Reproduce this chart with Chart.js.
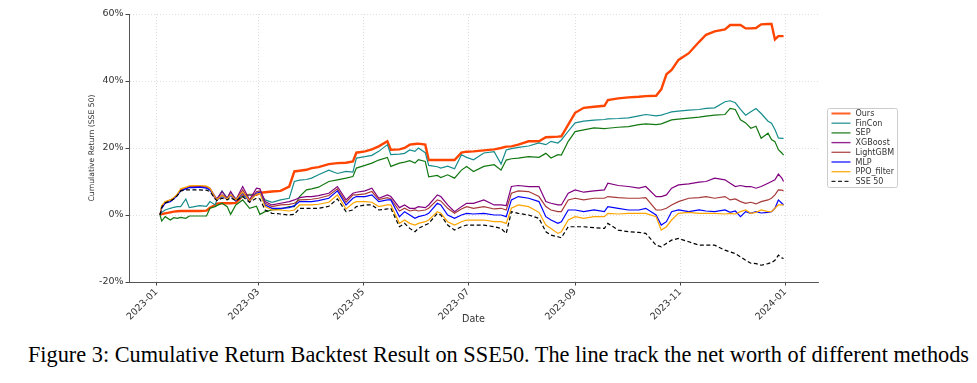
<!DOCTYPE html>
<html>
<head>
<meta charset="utf-8">
<script src="https://cdn.jsdelivr.net/npm/chart.js@4.4.1/dist/chart.umd.min.js"></script>
<style>
  html, body { margin: 0; padding: 0; background: #fff; }
  #wrap { position: relative; width: 977px; height: 383px; overflow: hidden; }
  #chart { position: absolute; left: 0; top: 0; }
  #caption {
    position: absolute; left: 0; top: 342px; width: 977px;
    padding-left: 20px; box-sizing: border-box;
    text-align: center; white-space: nowrap;
    font-family: "Liberation Serif", "Times New Roman", serif;
    font-size: 22.3px; line-height: 26px; color: #000;
  }
</style>
</head>
<body>
<div id="wrap">
  <canvas id="chart" width="977" height="340"></canvas>
  <div id="caption">Figure 3: Cumulative Return Backtest Result on SSE50. The line track the net worth of different methods</div>
</div>
<script>
// trading dates (sampled) and cumulative returns in %
const dates = [
  '2023-01-03','2023-01-04','2023-01-06','2023-01-09','2023-01-11','2023-01-13','2023-01-15','2023-01-18','2023-01-20','2023-01-23',
  '2023-01-26','2023-01-30','2023-02-01','2023-02-04','2023-02-05','2023-02-08','2023-02-11','2023-02-13','2023-02-16','2023-02-20',
  '2023-02-24','2023-02-28','2023-03-02','2023-03-05','2023-03-09','2023-03-14','2023-03-19','2023-03-22','2023-03-25','2023-03-29',
  '2023-04-01','2023-04-05','2023-04-11','2023-04-16','2023-04-21','2023-04-25','2023-04-27','2023-05-02','2023-05-06','2023-05-10',
  '2023-05-15','2023-05-17','2023-05-22','2023-05-25','2023-05-28','2023-05-31','2023-06-02','2023-06-06','2023-06-08','2023-06-13',
  '2023-06-15','2023-06-19','2023-06-23','2023-06-27','2023-06-30','2023-07-04','2023-07-10','2023-07-16','2023-07-20','2023-07-23',
  '2023-07-26','2023-07-30','2023-08-05','2023-08-11','2023-08-15','2023-08-18','2023-08-22','2023-08-24','2023-08-28','2023-09-01',
  '2023-09-06','2023-09-12','2023-09-18','2023-09-20','2023-09-26','2023-10-02','2023-10-08','2023-10-12','2023-10-18','2023-10-21',
  '2023-10-24','2023-10-27','2023-10-31','2023-11-06','2023-11-12','2023-11-16','2023-11-21','2023-11-27','2023-11-30','2023-12-03',
  '2023-12-06','2023-12-09','2023-12-12','2023-12-15','2023-12-18','2023-12-22','2023-12-24','2023-12-26','2023-12-28','2023-12-30',
  '2023-12-31'
];

const ours = [
  0, 0.3, 0.5, 0.8, 1.0, 1.1, 1.2, 1.2, 1.2, 1.2,
  1.2, 1.3, 2.2, 3.0, 3.4, 3.5, 3.5, 3.5, 3.6, 5.8,
  6.0, 6.0, 6.6, 6.8, 7.0, 7.2, 8.5, 13.0, 13.2, 13.5,
  14.0, 14.3, 15.2, 15.5, 15.6, 16.0, 18.6, 19.0, 19.6, 20.5,
  22.0, 19.5, 19.6, 20.0, 21.0, 21.2, 21.3, 21.0, 16.4, 16.4,
  16.4, 16.4, 16.4, 18.6, 18.9, 19.0, 19.3, 19.6, 20.0, 20.4,
  20.5, 21.0, 22.0, 22.0, 23.2, 23.3, 23.4, 23.5, 27.0, 30.5,
  32.0, 32.3, 32.6, 34.3, 34.8, 35.1, 35.3, 35.5, 35.6, 37.5,
  42.0, 43.3, 46.3, 48.3, 51.7, 53.8, 54.8, 55.4, 56.7, 56.7,
  56.7, 55.7, 55.7, 55.8, 56.9, 57.0, 57.0, 52.4, 53.4, 53.4,
  53.4
];
const finCon = [
  0, 0.8, 1.5, 2.0, 2.3, 2.5, 2.5, 4.8, 2.2, 2.5,
  2.8, 2.6, 4.0, 3.0, 4.5, 7.2, 5.0, 6.8, 4.8, 5.5,
  6.0, 6.2, 6.5, 4.5, 3.8, 4.5, 5.0, 10.0, 10.4, 10.6,
  11.0, 12.0, 13.4, 12.4, 13.0, 12.8, 17.0, 17.4, 17.8, 19.0,
  21.0, 18.0, 18.2, 18.4, 19.4, 19.0, 20.0, 18.6, 14.8, 14.4,
  14.0, 14.6, 13.8, 18.0, 17.2, 16.5, 18.5, 18.9, 15.2, 19.4,
  19.8, 20.2, 20.6, 21.5, 21.0, 22.0, 21.5, 22.4, 25.0, 27.5,
  28.0, 28.3, 28.5, 28.7, 28.8, 29.0, 29.6, 30.0, 29.6, 29.8,
  30.3, 30.8, 31.0, 31.3, 31.5, 31.8, 32.0, 33.8, 34.1, 33.5,
  31.5, 29.8, 30.8, 31.8, 30.3, 28.0, 27.4, 25.5, 23.0, 22.9,
  22.9
];
const sep = [
  0, -1.8, -0.5, -1.5, -0.8, -1.0, -0.7, -1.0, -0.3, -0.3,
  -0.3, -0.3, 2.0, 2.5, 2.8, 3.5, 2.5, 0.2, 3.0, 4.5,
  2.0, 2.6, 0.2, 1.0, 1.5, 1.8, 2.5, 2.5, 5.5, 7.5,
  7.8, 8.3, 10.0, 10.5, 11.0, 11.5, 14.0, 14.8, 15.5, 16.4,
  17.2, 14.5, 15.5, 15.8, 16.2, 15.5, 16.5, 16.0, 11.4, 11.8,
  11.2, 12.0, 11.0, 13.4, 14.5, 13.0, 14.5, 15.0, 13.4, 16.4,
  16.8, 17.0, 17.4, 17.2, 18.4, 17.0, 18.0, 17.9, 22.0, 24.9,
  25.4, 26.0, 25.8, 25.9, 26.2, 26.4, 27.0, 27.2, 27.0, 27.2,
  27.8, 28.4, 28.6, 28.9, 29.2, 29.5, 29.8, 30.0, 31.8, 31.5,
  28.4, 27.5, 25.9, 26.5, 22.9, 24.4, 22.5, 21.9, 19.5, 18.5,
  17.9
];
const xgBoost = [
  0, 2.5, 3.8, 4.5, 5.0, 6.0, 7.5, 8.0, 8.5, 8.6,
  8.6, 8.5, 8.0, 5.5, 4.8, 7.0, 5.0, 7.0, 4.5, 8.5,
  4.5, 8.0, 7.8, 4.0, 3.0, 3.5, 4.0, 4.5, 5.2, 5.5,
  5.5, 5.8, 6.5, 8.5, 4.5, 6.5, 6.8, 7.2, 8.0, 5.0,
  6.0, 5.5, 2.2, 3.0, 2.0, 2.0, 2.5, 2.2, 3.0, 6.0,
  5.5, 3.0, 1.0, 2.5, 3.5, 3.5, 4.5, 3.0, 3.0, 2.8,
  8.5, 8.8, 8.5, 8.5, 4.0, 3.5, 3.0, 3.0, 6.5, 7.5,
  6.8, 7.2, 7.5, 9.5, 8.8, 8.5, 8.0, 8.5, 5.5, 5.5,
  6.0, 8.0, 9.0, 9.3, 9.8, 10.0, 11.0, 10.5, 9.5, 8.5,
  8.8, 8.5, 8.5, 8.0, 8.5, 9.5, 10.0, 10.5, 12.2, 11.0,
  10.0
];
const lightGbm = [
  0, 2.5, 3.8, 4.5, 5.0, 6.0, 7.5, 8.0, 8.3, 8.4,
  8.4, 8.3, 7.8, 5.0, 4.5, 6.0, 4.8, 6.0, 4.3, 7.5,
  4.0, 7.0, 7.2, 3.5, 2.5, 3.0, 3.2, 3.5, 4.5, 4.6,
  4.7, 5.0, 5.8, 7.8, 3.8, 6.0, 6.0, 6.3, 7.0, 4.6,
  5.2, 4.8, 1.2, 2.0, 1.2, 1.5, 1.2, 1.5, 2.0, 4.5,
  4.2, 2.0, 0.5, 1.8, 2.5, 2.0, 2.5, 1.8, 2.0, 1.5,
  6.5, 7.2, 7.0, 5.5, 2.5, 1.5, 1.0, 1.0, 4.5, 5.0,
  4.5, 5.0, 5.0, 5.5, 5.2, 5.0, 5.0, 5.2, 1.5, 1.5,
  2.0, 3.0, 4.0, 5.0, 5.2, 5.5, 5.0, 5.5, 4.5, 4.8,
  4.0, 3.5, 3.8, 3.3, 4.0, 4.5, 5.0, 6.0, 7.5, 7.4,
  7.2
];
const mlp = [
  0, 2.0, 3.5, 4.0, 4.8, 5.8, 7.2, 7.8, 8.2, 8.2,
  8.3, 8.0, 7.5, 5.0, 4.5, 5.5, 4.8, 5.8, 4.2, 6.5,
  4.0, 6.5, 6.8, 3.0, 2.0, 2.0, 2.2, 2.8, 4.0, 4.0,
  4.0, 4.3, 5.0, 7.2, 3.0, 5.0, 5.5, 5.5, 6.0, 4.0,
  4.5, 4.5, -0.5, 1.0, 0.0, -1.0, -0.5, 0.0, 0.5, 3.5,
  3.0, 0.0, -1.0, 0.0, 0.5, 0.3, 0.5, 0.0, 0.0, -0.5,
  4.5, 5.5, 5.0, 4.0, -0.5, -1.5, -2.5, -2.0, 1.5, 1.5,
  1.0, 1.5, 1.0, 2.5, 2.0, 1.5, 1.5, 2.0, 0.0, -3.0,
  -2.0, 1.0, 1.5, 1.0, 1.5, 1.2, 1.0, 1.5, 0.8, 1.2,
  -0.5, 1.0, 0.5, 1.0, 0.6, 0.8, 1.0, 2.0, 4.5, 3.5,
  3.0
];
const ppoFilter = [
  0, 2.8, 4.0, 4.5, 5.2, 6.2, 7.8, 8.3, 8.7, 8.8,
  8.8, 8.6, 8.0, 5.2, 4.6, 5.8, 4.8, 6.0, 4.5, 6.8,
  4.2, 6.2, 6.5, 2.5, 1.5, 1.5, 1.2, 1.5, 3.0, 3.0,
  3.0, 3.2, 3.8, 6.0, 1.8, 3.5, 4.0, 4.0, 3.8, 2.5,
  3.0, 3.0, -2.5, -1.5, -2.5, -3.0, -2.5, -2.0, -1.5, 1.0,
  0.5, -2.0, -3.0, -2.0, -1.5, -1.5, -1.5, -2.0, -2.0, -2.5,
  2.0, 3.0, 2.5, 0.8, -3.0, -4.0, -5.5, -5.0, -1.5, -0.5,
  -1.0, -0.5, -0.5, 0.5, 0.3, 0.5, 0.5, 0.5, -0.5, -4.5,
  -3.5, -1.5, 0.5, 0.8, 0.5, 0.5, 0.5, 0.3, 0.5, 0.3,
  1.0, 1.5, 0.5, 0.8, 1.5, 1.0, 1.0, 2.0, 3.0, 3.0,
  3.0
];
const sse50 = [
  0, 2.3, 3.6, 4.2, 4.8, 5.8, 7.2, 7.5, 7.5, 7.5,
  7.5, 7.4, 7.0, 4.8, 4.3, 5.0, 4.5, 5.2, 4.2, 5.5,
  3.8, 5.0, 4.8, 1.5, 0.5, 0.3, 0.0, 0.2, 2.0, 2.0,
  2.0, 2.0, 2.6, 4.8, 1.0, 1.5, 2.5, 3.0, 3.0, 1.5,
  1.8, 2.0, -3.5, -2.5, -4.0, -5.0, -4.0, -3.0, -2.5, 0.5,
  0.0, -3.0, -4.5, -3.5, -3.0, -3.0, -3.0, -3.5, -4.0, -5.5,
  1.0, 0.5, 0.0, -1.0, -5.0, -6.0, -6.5, -6.8, -3.5, -3.5,
  -3.5, -3.8, -4.0, -2.5, -4.5, -5.0, -5.2, -5.5, -9.0, -9.5,
  -8.5, -7.5, -7.0, -8.0, -9.0, -9.0, -9.0, -10.5, -11.0, -11.5,
  -12.5, -13.5, -14.4, -14.5, -15.0, -14.5, -14.2, -13.5, -12.0, -12.8,
  -13.0
];

const seriesNames = ['Ours', 'FinCon', 'SEP', 'XGBoost', 'LightGBM', 'MLP', 'PPO_filter', 'SSE 50'];
const seriesValues = [ours, finCon, sep, xgBoost, lightGbm, mlp, ppoFilter, sse50];
const seriesColors = ['#ff4500', '#168c8c', '#127812', '#800080', '#a83a3a', '#0000ff', '#ffa500', '#000000'];

const tickDates = ['2023-01-01', '2023-03-01', '2023-05-01', '2023-07-01', '2023-09-01', '2023-11-01', '2024-01-01'];
const tickLabels = ['2023-01', '2023-03', '2023-05', '2023-07', '2023-09', '2023-11', '2024-01'];
const xRange = ['2022-12-16', '2024-01-20'];
const yRange = [-20, 60];

const BASE = Date.UTC(2023, 0, 1);
const dayOf = (s) => {
  const [y, m, d] = s.split('-').map(Number);
  return (Date.UTC(y, m - 1, d) - BASE) / 86400000;
};

const font = 'DejaVu Sans';
const textColor = '#333333';

const datasets = seriesNames.map((name, i) => ({
  label: name,
  data: dates.map((d, j) => ({ x: dayOf(d), y: seriesValues[i][j] })),
  borderColor: seriesColors[i],
  borderWidth: i === 0 ? 2.4 : 1.2,
  borderDash: name === 'SSE 50' ? [4, 2.5] : [],
  pointRadius: 0,
  tension: 0,
  order: seriesNames.length - i
}));

// matplotlib-like legend box to the right of the plot
const boxLegend = {
  id: 'boxLegend',
  afterDraw(chart) {
    const { ctx, chartArea } = chart;
    const x = chartArea.right + 9.5, y = chartArea.top + 94.5, w = 70, h = 79;
    ctx.save();
    ctx.fillStyle = 'rgba(255,255,255,0.8)';
    ctx.strokeStyle = '#cccccc';
    ctx.lineWidth = 1;
    ctx.beginPath();
    ctx.roundRect(x, y, w, h, 2);
    ctx.fill();
    ctx.stroke();
    ctx.font = '8px "' + font + '"';
    ctx.textBaseline = 'middle';
    chart.data.datasets.forEach((ds, i) => {
      const cy = y + 5 + i * 9.7;
      ctx.globalAlpha = 0.85;
      ctx.strokeStyle = ds.borderColor;
      ctx.lineWidth = i === 0 ? 2 : 1.4;
      ctx.setLineDash(ds.borderDash);
      ctx.beginPath();
      ctx.moveTo(x + 4, cy);
      ctx.lineTo(x + 23, cy);
      ctx.stroke();
      ctx.setLineDash([]);
      ctx.globalAlpha = 1;
      ctx.fillStyle = textColor;
      ctx.fillText(ds.label, x + 28, cy + 0.5);
    });
    ctx.restore();
  }
};

new Chart(document.getElementById('chart'), {
  type: 'line',
  data: { datasets },
  plugins: [boxLegend],
  options: {
    responsive: false,
    animation: false,
    devicePixelRatio: 1,
    layout: { padding: { left: 0, top: 14, right: 159, bottom: 0 } },
    plugins: { legend: { display: false }, tooltip: { enabled: false } },
    scales: {
      x: {
        type: 'linear',
        min: dayOf(xRange[0]),
        max: dayOf(xRange[1]),
        afterBuildTicks: (scale) => { scale.ticks = tickDates.map(d => ({ value: dayOf(d) })); },
        afterFit: (scale) => { scale.height = 58; },
        ticks: {
          autoSkip: false,
          minRotation: 45,
          maxRotation: 45,
          padding: 1,
          color: textColor,
          font: { family: font, size: 9.5 },
          callback: (v, i) => tickLabels[i]
        },
        grid: { color: 'rgba(0,0,0,0.16)', lineWidth: 0.8, tickColor: '#444', tickLength: 3.5, tickWidth: 1 },
        border: { display: true, color: '#555', width: 1, dash: [1, 2] },
        title: { display: true, text: 'Date', color: textColor, font: { family: font, size: 9.6 }, padding: { top: 0, bottom: 14.6 } }
      },
      y: {
        min: yRange[0],
        max: yRange[1],
        afterFit: (scale) => { scale.width = 129; },
        ticks: {
          stepSize: 20,
          padding: 2,
          color: textColor,
          font: { family: font, size: 9.5 },
          callback: (v) => v + '%'
        },
        grid: { color: 'rgba(0,0,0,0.16)', lineWidth: 0.8, tickColor: '#444', tickLength: 3.5, tickWidth: 1 },
        border: { display: true, color: '#555', width: 1, dash: [1, 2] },
        title: { display: true, text: 'Cumulative Return (SSE 50)', color: textColor, font: { family: font, size: 7.7 }, padding: { top: 87.5, bottom: 0 } }
      }
    }
  }
});
</script>
</body>
</html>
